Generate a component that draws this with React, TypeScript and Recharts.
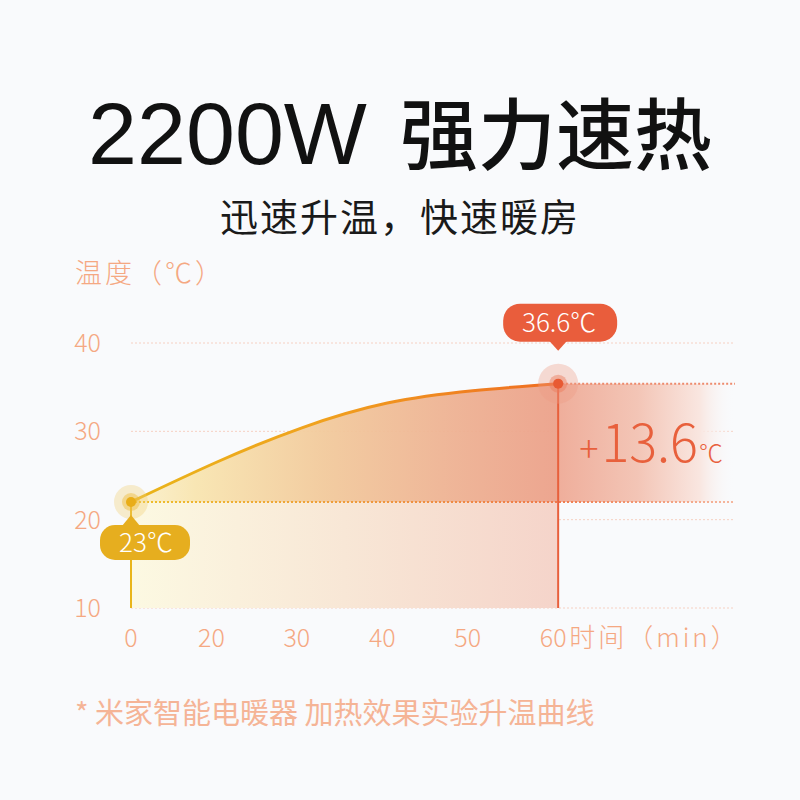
import { ComposedChart, Area, Line, XAxis, YAxis, CartesianGrid, ReferenceArea, ReferenceLine } from 'recharts';

// heating test curve
const minutes = ['0', '20', '30', '40', '50', '60'];
const temps = [22.0, 26.5, 30.4, 33.2, 34.6, 35.4];
const yTicks = [10, 20, 30, 40];
const startLabel = '23℃';
const endLabel = '36.6℃';
const riseValue = '13.6';

const data = minutes.map((m, i) => ({ idx: i, minute: m, temp: temps[i] }));
const last = minutes.length - 1;
const xMax = 7.07;

const CJK = '"Noto Sans CJK SC", "Noto Sans", sans-serif';
const tickColor = '#f5a882';

function XTick({ x, y, payload }: any) {
    const i = payload.value;
    const shift = i === 0 ? 0 : -5;
    return (
        <g>
            <text x={x + shift} y={y + 39} textAnchor="middle" fill={tickColor} fontSize={25} fontFamily={CJK} fontWeight={300}>
                {minutes[i]}
            </text>
            {i === last && (
                <text x={x + 11} y={y + 39} textAnchor="start" fill={tickColor} fontSize={26} fontFamily={CJK} fontWeight={300} letterSpacing={3}>
                    时间（min）
                </text>
            )}
        </g>
    );
}

function YTick({ x, y, payload }: any) {
    return (
        <text x={x} y={y} dy={9} textAnchor="end" fill={tickColor} fontSize={25} fontFamily={CJK} fontWeight={300}>
            {payload.value}
        </text>
    );
}

function YTitle({ viewBox }: any) {
    return (
        <text x={viewBox.x + 4} y={viewBox.y - 60} fill={tickColor} fontSize={27} fontFamily={CJK} fontWeight={300} letterSpacing={3}>
            温度（℃）
        </text>
    );
}

function RiseLabel({ viewBox }: any) {
    return (
        <text x={viewBox.x + 21} y={viewBox.y + 78} fill="#e8603c" fontFamily={CJK} fontWeight={300}>
            <tspan fontSize={36}>+</tspan>
            <tspan fontSize={52} dx={3}>{riseValue}</tspan>
            <tspan fontSize={24} dx={1}>℃</tspan>
        </text>
    );
}

function CalloutDot(props: any) {
    const { cx, cy, index } = props;
    if (index === 0) {
        return (
            <g key="d0">
                <circle cx={cx} cy={cy} r={17} fill="#f2cf73" fillOpacity={0.35} />
                <circle cx={cx} cy={cy} r={9} fill="#eeba3a" fillOpacity={0.45} />
                <circle cx={cx} cy={cy} r={5} fill="#e9ad17" />
                <path d={`M${cx - 9} ${cy + 24} L${cx} ${cy + 13} L${cx + 9} ${cy + 24} Z`} fill="#e6ae1f" />
                <rect x={cx - 31} y={cy + 23} width={90} height={35} rx={15} fill="#e6ae1f" />
                <text x={cx + 15} y={cy + 50} textAnchor="middle" fill="#fff" fontSize={26} fontFamily={CJK} fontWeight={300}>
                    {startLabel}
                </text>
            </g>
        );
    }
    if (index === last) {
        return (
            <g key="d5">
                <circle cx={cx} cy={cy} r={20} fill="#ee9a84" fillOpacity={0.35} />
                <circle cx={cx} cy={cy} r={9} fill="#ec7a5c" fillOpacity={0.45} />
                <circle cx={cx} cy={cy} r={5} fill="#e85a33" />
                <path d={`M${cx - 9} ${cy - 43} L${cx} ${cy - 33} L${cx + 9} ${cy - 43} Z`} fill="#e95d3c" />
                <rect x={cx - 55} y={cy - 80} width={114} height={38} rx={17} fill="#e95d3c" />
                <text x={cx + 1} y={cy - 52} textAnchor="middle" fill="#fff" fontSize={26} fontFamily={CJK} fontWeight={300}>
                    {endLabel}
                </text>
            </g>
        );
    }
    return <g key={`d${index}`} />;
}

export default function App() {
    return (
        <div style={{ position: 'absolute', left: 0, top: 0, width: 800, height: 800, background: '#f9fafc', overflow: 'hidden' }}>
            <svg width={800} height={800} style={{ position: 'absolute', left: 0, top: 0 }}>
                <text x={400} y={164} textAnchor="middle" fill="#111">
                    <tspan fontFamily='"Liberation Sans", Arial, sans-serif' fontSize={88}>2200W</tspan>
                    <tspan fontFamily={CJK} fontSize={78} fontWeight={500} dx={33}>强力速热</tspan>
                </text>
                <text x={400} y={231} textAnchor="middle" fill="#1a1a1a" fontFamily={CJK} fontSize={38} letterSpacing={2}>
                    迅速升温，快速暖房
                </text>
                <text x={75} y={724} fill="#f5b496" fontFamily={CJK} fontSize={29}>
                    * 米家智能电暖器 加热效果实验升温曲线
                </text>
            </svg>
            <div style={{ position: 'absolute', left: 0, top: 0 }}>
                <ComposedChart width={800} height={800} data={data} margin={{ top: 343, right: 65, left: 71, bottom: 132 }}>
                    <defs>
                        <linearGradient id="areaGrad" x1="0" y1="0" x2="1" y2="0">
                            <stop offset="0" stopColor="#fbf1cf" />
                            <stop offset="0.15" stopColor="#f8e5b0" />
                            <stop offset="0.45" stopColor="#f2ca9c" />
                            <stop offset="0.75" stopColor="#eeb293" />
                            <stop offset="1" stopColor="#eca18a" />
                        </linearGradient>
                        <linearGradient id="lowGrad" x1="0" y1="0" x2="1" y2="0">
                            <stop offset="0" stopColor="#fcf9e2" />
                            <stop offset="0.5" stopColor="#f8e7d6" />
                            <stop offset="1" stopColor="#f5d4ca" />
                        </linearGradient>
                        <linearGradient id="bandGrad" x1="0" y1="0" x2="1" y2="0">
                            <stop offset="0" stopColor="#efae9b" />
                            <stop offset="0.45" stopColor="#f3c5b6" />
                            <stop offset="0.8" stopColor="#f9e6e0" />
                            <stop offset="1" stopColor="#f9fafc" stopOpacity={0} />
                        </linearGradient>
                        <linearGradient id="lineGrad" x1="0" y1="0" x2="1" y2="0">
                            <stop offset="0" stopColor="#e9b51a" />
                            <stop offset="0.45" stopColor="#f0a11e" />
                            <stop offset="1" stopColor="#ef6c22" />
                        </linearGradient>
                        <linearGradient id="baseLineGrad" gradientUnits="userSpaceOnUse" x1="131" y1="0" x2="735" y2="0">
                            <stop offset="0" stopColor="#eec02a" />
                            <stop offset="0.7" stopColor="#f07a4a" />
                            <stop offset="1" stopColor="#f5b8a0" />
                        </linearGradient>
                    </defs>
                    <CartesianGrid vertical={false} stroke="#f6d0c2" strokeDasharray="2 2" />
                    <XAxis
                        type="number"
                        dataKey="idx"
                        domain={[0, xMax]}
                        ticks={[0, 1, 2, 3, 4, 5]}
                        tick={<XTick />}
                        axisLine={false}
                        tickLine={false}
                        tickSize={0}
                        tickMargin={0}
                        height={60}
                    />
                    <YAxis
                        type="number"
                        domain={[10, 40]}
                        ticks={yTicks}
                        tick={<YTick />}
                        axisLine={false}
                        tickLine={false}
                        tickSize={0}
                        tickMargin={30}
                        width={60}
                        label={<YTitle />}
                    />
                    <ReferenceArea x1={0} x2={last} y1={10} y2={temps[0]} fill="url(#lowGrad)" fillOpacity={1} />
                    <ReferenceArea x1={last} x2={xMax} y1={temps[0]} y2={temps[last]} fill="url(#bandGrad)" fillOpacity={1} label={<RiseLabel />} />
                    <Area type="natural" dataKey="temp" baseValue={temps[0]} fill="url(#areaGrad)" fillOpacity={0.95} stroke="none" isAnimationActive={false} />
                    <ReferenceLine segment={[{ x: 0, y: temps[0] }, { x: xMax, y: temps[0] }]} stroke="url(#baseLineGrad)" strokeWidth={2} strokeDasharray="2 2" />
                    <ReferenceLine segment={[{ x: last, y: temps[last] }, { x: xMax, y: temps[last] }]} stroke="#ee8a6c" strokeWidth={2} strokeDasharray="2 2" />
                    <ReferenceLine segment={[{ x: 0, y: 10 }, { x: 0, y: temps[0] }]} stroke="#e9b51a" strokeWidth={2} />
                    <ReferenceLine segment={[{ x: last, y: 10 }, { x: last, y: temps[last] }]} stroke="#e8603c" strokeWidth={2} />
                    <Line type="natural" dataKey="temp" stroke="url(#lineGrad)" strokeWidth={3} dot={CalloutDot} activeDot={false} isAnimationActive={false} />
                </ComposedChart>
            </div>
        </div>
    );
}
